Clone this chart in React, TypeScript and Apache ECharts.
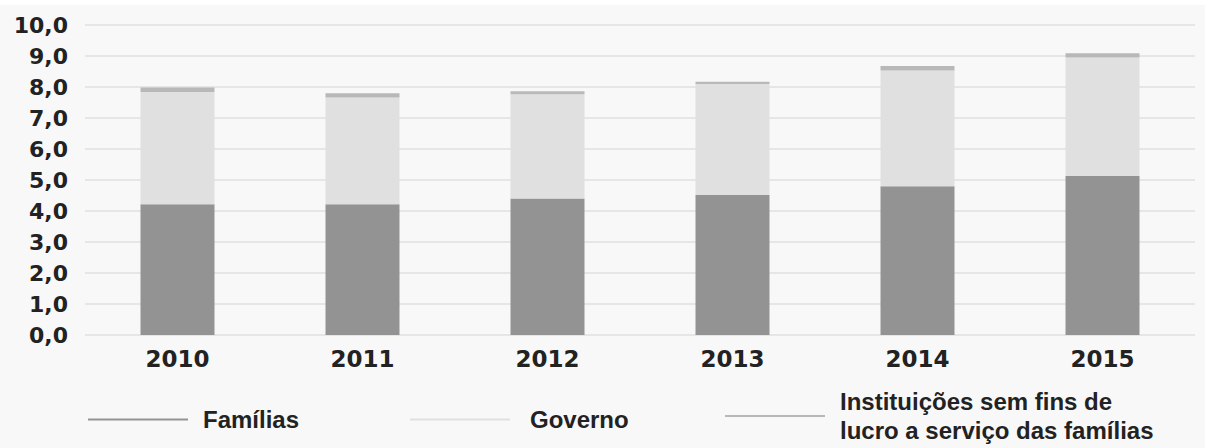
import React, { useEffect, useRef } from "react";
import * as echarts from "echarts";

const years = ["2010", "2011", "2012", "2013", "2014", "2015"];
const familias = [4.22, 4.22, 4.4, 4.52, 4.8, 5.13];
const governo = [3.62, 3.44, 3.37, 3.58, 3.73, 3.82];
const instituicoes = [0.14, 0.14, 0.09, 0.07, 0.15, 0.14];
const seriesNames = ["Famílias", "Governo", "Instituições sem fins de\nlucro a serviço das famílias"];
const colors = ["#939393", "#e0e0e0", "#b8b8b8"];

export default function App() {
  const ref = useRef<HTMLDivElement>(null);
  useEffect(() => {
    if (!ref.current) return;
    const chart = echarts.init(ref.current, null, { renderer: "svg" });
    const font = "DejaVu Sans";
    const legendBase = {
      icon: "rect",
      itemWidth: 100,
      itemHeight: 2,
      itemGap: 10,
      textStyle: {
        fontFamily: "Liberation Sans",
        fontWeight: "bold",
        fontSize: 24,
        color: "#222",
        padding: [0, 0, 0, 10],
        lineHeight: 29,
      },
    };
    chart.setOption({
      animation: false,
      backgroundColor: "#f8f8f8",
      grid: { left: 85, right: 10, top: 20, bottom: 113, containLabel: false },
      xAxis: {
        type: "category",
        data: years,
        axisLine: { show: false },
        axisTick: { show: false },
        axisLabel: { fontFamily: font, fontWeight: "bold", fontSize: 23, color: "#222", margin: 12 },
      },
      yAxis: {
        type: "value",
        min: 0,
        max: 10,
        interval: 1,
        axisLine: { show: false },
        axisTick: { show: false },
        splitLine: { lineStyle: { color: "#e6e6e6", width: 2 } },
        axisLabel: {
          fontFamily: font,
          fontWeight: "bold",
          fontSize: 22,
          color: "#222",
          margin: 17,
          formatter: (v: number) => v.toFixed(1).replace(".", ","),
        },
      },
      legend: [
        { ...legendBase, data: [seriesNames[0]], left: 83, top: 395 },
        { ...legendBase, data: [seriesNames[1]], left: 405, top: 395, textStyle: { ...legendBase.textStyle, padding: [0, 0, 0, 15] } },
        { ...legendBase, data: [seriesNames[2]], left: 720, top: 377 },
      ],
      series: [familias, governo, instituicoes].map((d, i) => ({
        name: seriesNames[i],
        type: "bar",
        stack: "total",
        data: d,
        barWidth: "40%",
        itemStyle: { color: colors[i] },
      })),
    });
    return () => chart.dispose();
  }, []);
  return (
    <div style={{ position: "absolute", left: 0, top: 0, width: 1205, height: 448, background: "#fff" }}>
      <div ref={ref} style={{ position: "absolute", left: 0, top: 5, width: 1205, height: 443 }} />
    </div>
  );
}
